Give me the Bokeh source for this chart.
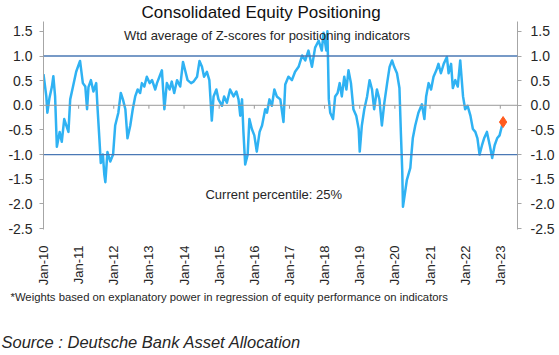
import math
from bokeh.plotting import figure
from bokeh.layouts import column
from bokeh.models import (Range1d, FixedTicker, PrintfTickFormatter, LinearAxis,
                          Span, Label, Title)
from bokeh.embed import file_html
from bokeh.resources import INLINE

# ---- data (fractional year, weighted Z-score) ----
years = [2010.00, 2010.08, 2010.11, 2010.17, 2010.24, 2010.28, 2010.33, 2010.38, 2010.46, 2010.52,
         2010.59, 2010.65, 2010.71, 2010.76, 2010.84, 2010.93, 2011.04, 2011.12, 2011.19, 2011.24,
         2011.28, 2011.35, 2011.42, 2011.50, 2011.54, 2011.59, 2011.63, 2011.69, 2011.73, 2011.76,
         2011.82, 2011.90, 2011.98, 2012.04, 2012.13, 2012.20, 2012.26, 2012.33, 2012.39, 2012.47,
         2012.54, 2012.61, 2012.68, 2012.75, 2012.80, 2012.87, 2012.94, 2013.02, 2013.09, 2013.18,
         2013.23, 2013.30, 2013.37, 2013.44, 2013.51, 2013.59, 2013.65, 2013.72, 2013.80, 2013.89,
         2013.97, 2014.03, 2014.10, 2014.20, 2014.27, 2014.37, 2014.44, 2014.51, 2014.57, 2014.65,
         2014.72, 2014.79, 2014.84, 2014.92, 2014.98, 2015.08, 2015.14, 2015.22, 2015.31, 2015.41,
         2015.49, 2015.55, 2015.60, 2015.65, 2015.69, 2015.74, 2015.81, 2015.86, 2015.93, 2016.00,
         2016.07, 2016.15, 2016.22, 2016.31, 2016.36, 2016.43, 2016.50, 2016.57, 2016.64, 2016.74,
         2016.83, 2016.88, 2016.97, 2017.07, 2017.16, 2017.26, 2017.36, 2017.45, 2017.54, 2017.64,
         2017.73, 2017.83, 2017.92, 2017.97, 2018.05, 2018.08, 2018.12, 2018.16, 2018.24, 2018.30,
         2018.37, 2018.43, 2018.49, 2018.56, 2018.62, 2018.68, 2018.75, 2018.82, 2018.90, 2018.97,
         2019.00, 2019.06, 2019.13, 2019.21, 2019.28, 2019.35, 2019.41, 2019.49, 2019.56, 2019.63,
         2019.70, 2019.78, 2019.85, 2019.92, 2019.98, 2020.06, 2020.13, 2020.17, 2020.21, 2020.23,
         2020.34, 2020.44, 2020.47, 2020.51, 2020.58, 2020.67, 2020.77, 2020.84, 2020.89, 2020.96,
         2021.03, 2021.10, 2021.18, 2021.24, 2021.31, 2021.39, 2021.48, 2021.53, 2021.60, 2021.65,
         2021.72, 2021.79, 2021.86, 2021.94, 2022.00, 2022.07, 2022.15, 2022.22, 2022.29, 2022.35,
         2022.41, 2022.48, 2022.54, 2022.62, 2022.70, 2022.77, 2022.84, 2022.91, 2022.98, 2023.05,
         2023.08]
zscore = [0.63, 0.18, -0.15, 0.15, 0.38, 0.59, 0.18, -0.84, -0.54, -0.74,
          -0.28, -0.41, -0.54, 0.12, 0.38, 0.68, 0.90, 0.45, 0.38, -0.08,
          0.37, 0.51, 0.28, 0.45, -0.08, -0.67, -1.17, -1.00, -1.40, -1.56,
          -0.95, -1.14, -1.00, -0.41, -0.15, 0.25, 0.12, -0.08, -0.67, -0.41,
          -0.08, 0.18, 0.32, 0.25, 0.45, 0.38, 0.58, 0.45, 0.51, 0.32,
          0.45, 0.58, 0.71, -0.08, 0.45, 0.32, 0.48, 0.25, 0.51, 0.38,
          0.88, 0.71, 0.51, 0.45, 0.48, 0.58, 0.90, 0.78, 0.58, 0.68,
          0.51, -0.31, 0.18, 0.32, 0.12, -0.01, 0.18, 0.05, 0.32, 0.18,
          0.28, 0.12, -0.21, 0.12, -0.54, -1.20, -1.00, -0.28, -0.48, -0.61,
          -0.94, -0.54, -0.41, -0.08, -0.15, 0.12, -0.01, 0.32, 0.18, 0.12,
          -0.34, 0.42, 0.58, 0.51, 0.68, 0.78, 1.01, 0.91, 1.11, 0.78,
          1.17, 1.31, 1.11, 1.47, 1.11, 1.50, 0.12, -0.15, -0.28, 0.18,
          0.25, 0.45, 0.18, 0.58, 0.32, 0.71, 0.45, -0.08, -0.21, -0.48,
          -0.94, -0.41, -0.08, 0.18, 0.51, 0.32, -0.08, 0.32, 0.12, -0.41,
          0.05, 0.45, 0.78, 0.91, 0.78, 0.65, 0.35, -0.54, -1.33, -2.06,
          -1.52, -1.27, -1.00, -0.67, -0.41, -0.15, 0.02, -0.28, 0.18, 0.45,
          0.32, 0.58, 0.71, 0.84, 0.65, 0.84, 0.98, 0.65, 0.84, 0.35,
          0.51, 0.38, 0.91, 0.18, -0.08, -0.01, -0.21, -0.48, -0.54, -0.67,
          -1.00, -0.81, -0.67, -0.54, -0.81, -1.07, -0.81, -0.67, -0.61, -0.41,
          -0.34]

tick_years = list(range(2010, 2024))
tick_labels = ["Jan-%02d" % (y % 100) for y in tick_years]
y_ticks = [1.5, 1.0, 0.5, 0.0, -0.5, -1.0, -1.5, -2.0, -2.5]
band_levels = [1.0, -1.0]

title_text = "Consolidated Equity Positioning"
subtitle_text = "Wtd average of Z-scores for positioning indicators"
note_text = "Current percentile: 25%"
foot_text = "*Weights based on explanatory power in regression of equity performance on indicators"
source_text = "Source : Deutsche Bank Asset Allocation"

FONT = "Liberation Sans"
AXIS_GREY = "#a6a6a6"
TEXT = "#262626"
W = 557

p = figure(width=W, height=288, output_backend="svg", toolbar_location=None,
           x_range=Range1d(2010.0, 2023.49), y_range=Range1d(-2.52, 1.70),
           min_border_left=43, min_border_right=40, min_border_top=0,
           min_border_bottom=55)
p.outline_line_color = None
p.grid.grid_line_color = None
p.background_fill_color = "white"
p.border_fill_color = "white"

# title above
p.title = Title(text=title_text, align="left", text_font=FONT,
                text_font_size="17px", text_font_style="normal",
                text_color="#111111", standoff=0, offset=98)

# x axis (labels only, rotated)
xa = p.xaxis[0]
xa.ticker = FixedTicker(ticks=tick_years)
xa.major_label_overrides = {y: l for y, l in zip(tick_years, tick_labels)}
xa.major_label_orientation = math.pi / 2
xa.axis_line_color = None
xa.major_tick_line_color = None
xa.minor_tick_line_color = None
xa.major_label_standoff = 10
xa.major_label_text_font = FONT
xa.major_label_text_font_size = "13px"
xa.major_label_text_color = TEXT

# y axes left and right
ya = p.yaxis[0]
ra = LinearAxis()
p.add_layout(ra, "right")
for ax, so in ((ya, 7), (ra, 9)):
    ax.ticker = FixedTicker(ticks=y_ticks)
    ax.formatter = PrintfTickFormatter(format="%.1f")
    ax.axis_line_color = AXIS_GREY
    ax.major_tick_line_color = AXIS_GREY
    ax.major_tick_out = 4
    ax.major_tick_in = 0
    ax.minor_tick_line_color = None
    ax.major_label_standoff = so
    ax.major_label_text_font = FONT
    ax.major_label_text_font_size = "14px"
    ax.major_label_text_color = TEXT

# reference lines
p.add_layout(Span(location=0, dimension="width", line_color="#9a9a9a", line_width=1))
for lv in band_levels:
    p.add_layout(Span(location=lv, dimension="width", line_color="#4a78b5", line_width=1.4))

# small ticks on the zero line
p.segment(x0=tick_years, y0=[0] * len(tick_years), x1=tick_years,
          y1=[-0.07] * len(tick_years), line_color="#9a9a9a", line_width=1)

# series
p.line(years, zscore, line_color="#2fb2f3", line_width=2.5, line_join="round")
p.scatter([years[-1]], [zscore[-1]], marker="diamond", size=11,
          fill_color="#ff5b1e", line_color="#ff5b1e")

# texts inside the plot
p.add_layout(Label(x=2016.36, y=1.41, text=subtitle_text, text_align="center",
                   text_baseline="middle", text_font=FONT, text_font_size="13px",
                   text_color=TEXT))
p.add_layout(Label(x=2014.61, y=-1.82, text=note_text, text_align="left",
                   text_baseline="middle", text_font=FONT, text_font_size="13px",
                   text_color=TEXT))

# footer panel (footnote + source) as titles of an empty strip
f2 = figure(width=W, height=62, output_backend="svg", toolbar_location=None,
            x_range=Range1d(0, 1), y_range=Range1d(0, 1),
            x_axis_location=None, y_axis_location=None,
            min_border_left=43, min_border_right=40, min_border_top=0,
            min_border_bottom=0)
f2.outline_line_color = None
f2.grid.grid_line_color = None
f2.title = Title(text=foot_text, align="left", offset=-33, standoff=0,
                 text_font=FONT, text_font_size="11.3px", text_font_style="normal",
                 text_color=TEXT)
f2.add_layout(Title(text=source_text, align="left", offset=-42, standoff=0,
                    text_font=FONT, text_font_size="16.5px", text_font_style="italic",
                    text_color=TEXT), "below")

layout = column(p, f2, spacing=0)
open("out.html", "w").write(file_html(layout, INLINE))
